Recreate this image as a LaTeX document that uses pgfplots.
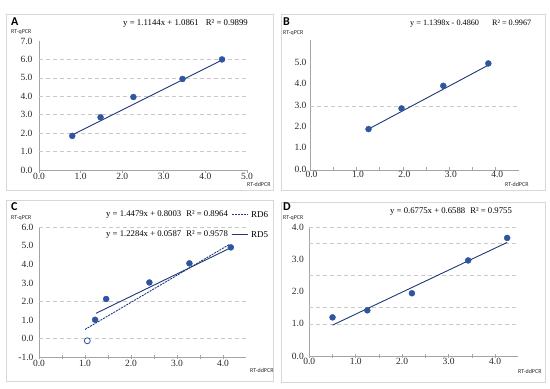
\documentclass[border=0pt]{standalone}
\usepackage{pgfplots}
\pgfplotsset{compat=1.18}
\usepackage{fontspec}
\setmainfont{Liberation Serif}
\newfontfamily\lab{Carlito}
\definecolor{pt}{RGB}{47,85,160}
\definecolor{ln}{RGB}{32,56,120}
\definecolor{ax}{RGB}{165,165,165}
\definecolor{gr}{RGB}{200,200,200}
\definecolor{bx}{RGB}{215,215,215}
\definecolor{tx}{RGB}{40,40,40}
\pgfplotsset{
  panel/.style={
    scale only axis, anchor=south west, clip=false,
    axis x line*=bottom, axis y line*=left,
    axis line style={ax, line width=0.6pt, -},
    tick style={ax, line width=0.6pt},
    major tick length=3pt,
    ytick style={draw=none},
    /pgf/number format/fixed,
    /pgf/number format/fixed zerofill,
    /pgf/number format/precision=1,
    /pgf/number format/assume math mode=true,
    ticklabel style={font=\fontsize{9.5}{10}\selectfont, text=tx},
    xticklabel style={yshift=3pt},
    major grid style={gr, dash pattern=on 4pt off 3pt, line width=0.6pt},
    extra y tick style={grid=major, major tick length=0pt},
    extra y tick labels={},
  },
  pts/.style={only marks, mark=*, mark size=3pt, pt, mark options={fill=pt, draw=pt}},
  fit/.style={no marks, ln, line width=0.9pt},
}
\begin{document}
\begin{tikzpicture}
\path[use as bounding box] (0,0) rectangle (550pt,389pt);
% panel frames
\draw[bx, line width=0.8pt] (6pt,199pt) rectangle (273pt,375pt);
\draw[bx, line width=0.8pt] (281pt,199pt) rectangle (545pt,375pt);
\draw[bx, line width=0.8pt] (6pt,8pt) rectangle (273pt,189pt);
\draw[bx, line width=0.8pt] (281pt,7pt) rectangle (545pt,187pt);

% ---------------- A
\begin{axis}[panel, at={(39pt,219pt)}, width=208pt, height=129pt,
  xmin=0, xmax=5, ymin=0, ymax=7, xtick={0,1,...,5}, ytick={0,1,...,7},
  tick align=outside, extra y ticks={1,2,3,4,5,6}]
\addplot[fit] coordinates {(0.80,1.90) (4.40,5.97)};
\addplot[pts] coordinates {(0.80,1.85) (1.48,2.86) (2.27,3.96) (3.45,4.94) (4.40,6.00)};
\end{axis}

% ---------------- B
\begin{axis}[panel, at={(310pt,219pt)}, width=209pt, height=130pt,
  xmin=0, xmax=4.5, ymin=0, ymax=6.1, xtick={0,1,...,4}, ytick={0,1,...,5},
  minor xtick={0.5,1.5,2.5,3.5}, minor tick length=3pt,
  tick align=inside, extra y ticks={3},
  xticklabel style={yshift=-1pt, xshift=1.5pt}, yticklabel style={yshift=1pt}]
\addplot[fit] coordinates {(1.26,1.92) (3.84,4.92)};
\addplot[pts] coordinates {(1.26,1.92) (1.97,2.89) (2.87,3.95) (3.84,5.00)};
\end{axis}

% ---------------- C
\begin{axis}[panel, at={(39pt,31.7pt)}, width=207pt, height=130pt,
  xmin=0, xmax=4.5, ymin=-1, ymax=6, xtick={0,1,...,4}, ytick={-1,0,...,6},
  minor xtick={0.5,1.5,2.5,3.5}, minor tick length=4pt, major tick length=4pt,
  tick align=center, extra y ticks={0,2,6}]
\addplot[no marks, ln, line width=0.9pt, dash pattern=on 2pt off 1pt] coordinates {(1.00,0.50) (4.14,5.08)};
\addplot[fit] coordinates {(1.24,1.37) (4.17,4.90)};
\addplot[pts] coordinates {(1.22,1.02) (1.46,2.14) (2.40,3.03) (3.27,4.06) (4.17,4.92)};
\addplot[only marks, mark=*, mark size=3pt, mark options={fill=white, draw=pt, line width=0.8pt}] coordinates {(1.05,-0.11)};
\end{axis}

% ---------------- D
\begin{axis}[panel, at={(309.3pt,33pt)}, width=209pt, height=128.7pt,
  xmin=0, xmax=4.5, ymin=0, ymax=4, xtick={0,1,...,4}, ytick={0,1,...,4},
  minor xtick={0.5,1.5,2.5,3.5}, minor tick length=4pt, major tick length=4pt,
  tick align=center, extra y ticks={1,1.5,2.5,3.5,4}]
\addplot[fit] coordinates {(0.50,0.96) (4.26,3.53)};
\addplot[pts] coordinates {(0.50,1.20) (1.25,1.42) (2.21,1.95) (3.42,2.97) (4.26,3.67)};
\end{axis}

% ---------------- labels
\begin{scope}[every node/.style={inner sep=0pt}]
\node[anchor=west, font=\lab\bfseries\fontsize{12}{12}\selectfont] at (11pt,367pt) {A};
\node[anchor=west, font=\lab\fontsize{6}{6}\selectfont, text=tx] at (11pt,357pt) {RT-qPCR};
\node[anchor=west, font=\lab\fontsize{6}{6}\selectfont, text=tx] at (247pt,205pt) {RT-ddPCR};
\node[anchor=west, font=\fontsize{8.8}{10}\selectfont] at (123pt,365pt) {y = 1.1144x + 1.0861\hspace{7pt}R² = 0.9899};

\node[anchor=west, font=\lab\bfseries\fontsize{12}{12}\selectfont] at (283pt,367pt) {B};
\node[anchor=west, font=\lab\fontsize{6}{6}\selectfont, text=tx] at (283pt,356pt) {RT-qPCR};
\node[anchor=west, font=\lab\fontsize{6}{6}\selectfont, text=tx] at (505pt,205pt) {RT-ddPCR};
\node[anchor=west, font=\fontsize{8.2}{10}\selectfont] at (410pt,365pt) {y = 1.1398x - 0.4860\hspace{13pt}R² = 0.9967};

\node[anchor=west, font=\lab\bfseries\fontsize{12}{12}\selectfont] at (11pt,182.5pt) {C};
\node[anchor=west, font=\lab\fontsize{6}{6}\selectfont, text=tx] at (11pt,171pt) {RT-qPCR};
\node[anchor=west, font=\lab\fontsize{6}{6}\selectfont, text=tx] at (250pt,19pt) {RT-ddPCR};
\node[anchor=west, font=\fontsize{8.7}{10}\selectfont] at (106pt,174.7pt) {y = 1.4479x + 0.8003\hspace{5pt}R² = 0.8964};
\draw[ln, line width=0.9pt, dash pattern=on 2pt off 1pt] (232pt,174.7pt) -- (248pt,174.7pt);
\node[anchor=west, font=\fontsize{9}{10}\selectfont] at (251pt,174.7pt) {RD6};
\node[anchor=west, font=\fontsize{8.7}{10}\selectfont] at (106pt,154.7pt) {y = 1.2284x + 0.0587\hspace{5pt}R² = 0.9578};
\draw[ln, line width=0.9pt] (232pt,154.7pt) -- (248pt,154.7pt);
\node[anchor=west, font=\fontsize{9}{10}\selectfont] at (251pt,154.7pt) {RD5};

\node[anchor=west, font=\lab\bfseries\fontsize{12}{12}\selectfont] at (283pt,182.5pt) {D};
\node[anchor=west, font=\lab\fontsize{6}{6}\selectfont, text=tx] at (283pt,171pt) {RT-qPCR};
\node[anchor=west, font=\lab\fontsize{6}{6}\selectfont, text=tx] at (518pt,18pt) {RT-ddPCR};
\node[anchor=west, font=\fontsize{8.7}{10}\selectfont] at (390pt,177.3pt) {y = 0.6775x + 0.6588\hspace{5pt}R² = 0.9755};
\end{scope}
\end{tikzpicture}
\end{document}
